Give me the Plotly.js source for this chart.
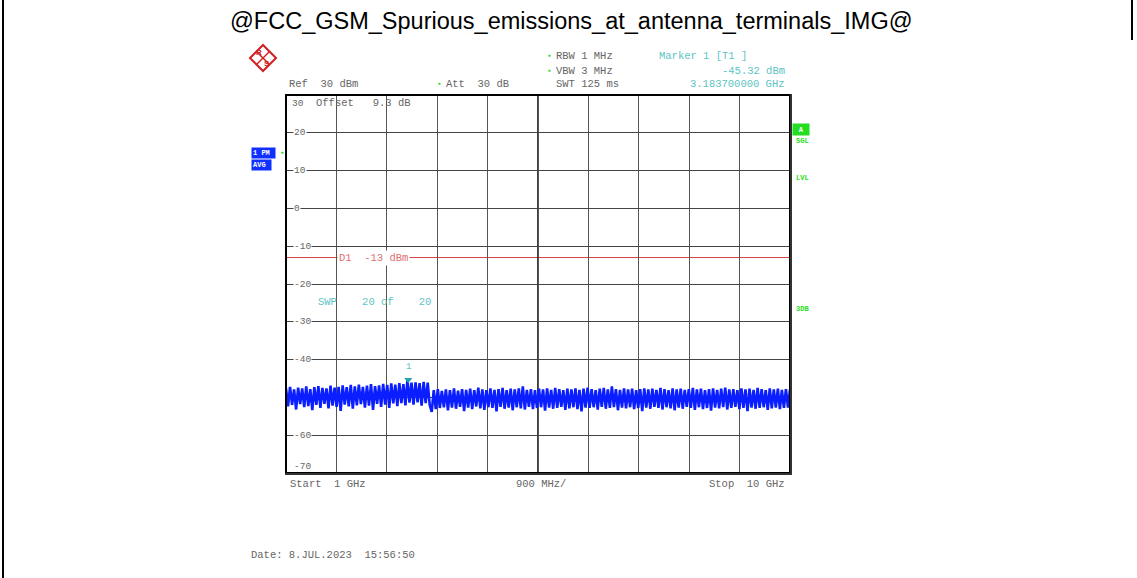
<!DOCTYPE html>
<html>
<head>
<meta charset="utf-8">
<script src="https://cdn.plot.ly/plotly-3.0.1.min.js"></script>
<style>html,body{margin:0;padding:0;background:#fff;}#chart{width:1137px;height:578px;}</style>
</head>
<body>
<div id="chart"></div>
<script>
// ---- data ----
const titleText = "@FCC_GSM_Spurious_emissions_at_antenna_terminals_IMG@";
const startGHz = 1;
const stopGHz = 10;
const refLevel = 30;
const bottomLevel = -70;
const yTickValues = [30, 20, 10, 0, -10, -20, -30, -40, -50, -60, -70];
const yTickLabels = ["30", "20", "10", "0", "-10", "-20", "-30", "-40", "-50", "-60", "-70"];
const limitD1 = -13;
const markerFreqGHz = 3.1837;
const markerLevel = -45.32;
const traceLevels = [
 -47.6,-52.4,-47.2,-52.0,-47.9,-53.2,-47.4,-51.8,-47.6,-52.6,
 -47.1,-52.3,-47.8,-53.4,-47.3,-52.0,-47.0,-52.8,-47.5,-51.7,
 -47.6,-52.9,-46.9,-52.2,-47.4,-52.5,-47.2,-53.6,-46.8,-51.9,
 -47.3,-52.4,-46.7,-53.0,-47.1,-52.1,-46.6,-51.8,-47.2,-52.7,
 -46.9,-52.2,-46.5,-53.3,-47.0,-51.7,-46.8,-52.5,-46.4,-51.9,
 -46.7,-52.8,-46.3,-51.6,-46.6,-52.3,-46.2,-51.5,-46.5,-52.1,
 -45.3,-51.4,-46.1,-51.9,-46.0,-51.3,-46.2,-52.2,-45.9,-51.5,
 -46.1,-52.0,
 -53.8,-48.1,-53.1,-47.8,-52.8,-48.3,-52.6,-47.9,
 -53.4,-48.1,-52.7,-47.6,-53.0,-48.2,-52.5,-47.8,-53.6,-48.0,
 -52.7,-47.7,-53.1,-48.1,-52.4,-47.4,-52.9,-47.9,-53.3,-48.1,
 -52.6,-47.6,-52.8,-48.0,-53.7,-47.8,-52.5,-47.5,-53.0,-48.1,
 -52.7,-47.7,-53.4,-47.9,-52.6,-47.6,-52.9,-47.1,-53.2,-48.0,
 -52.5,-47.8,-53.1,-48.1,-52.8,-47.7,-52.6,-47.9,-53.5,-47.6,
 -52.7,-48.0,-53.0,-47.5,-52.8,-47.8,-52.5,-48.1,-53.3,-47.7,
 -52.9,-47.9,-52.6,-47.6,-53.1,-48.0,-53.7,-47.7,-52.7,-47.4,
 -52.8,-47.8,-52.6,-48.1,-53.2,-47.7,-52.5,-47.5,-53.0,-47.9,
 -52.8,-47.1,-52.6,-47.8,-53.4,-48.0,-52.7,-47.6,-52.9,-47.9,
 -52.6,-47.7,-53.1,-48.1,-52.8,-47.8,-53.6,-47.6,-52.7,-47.9,
 -53.0,-47.7,-52.5,-48.0,-52.8,-47.5,-53.2,-47.8,-52.6,-48.1,
 -52.9,-47.6,-53.4,-47.9,-52.7,-47.7,-53.0,-48.0,-52.5,-47.8,
 -52.8,-47.5,-53.3,-47.9,-52.6,-47.7,-53.1,-48.1,-52.8,-47.8,
 -53.5,-47.6,-52.7,-48.0,-52.9,-47.7,-52.6,-47.4,-53.2,-47.9,
 -52.8,-47.8,-52.5,-48.1,-53.1,-47.6,-52.8,-47.9,-53.6,-47.7,
 -52.7,-48.0,-53.0,-47.5,-52.8,-47.8,-52.6,-48.1,-53.3,-47.6,
 -52.9,-47.9,-52.7,-47.7,-53.1,-48.0,-52.8,-47.8,-52.7,-47.9
];
// sweep frequencies: linear sweep from start to stop
const traceFreqs = traceLevels.map((_, i) => startGHz + i * (stopGHz - startGHz) / (traceLevels.length - 1));

// ---- layout helpers (pixel -> paper) ----
const L = 286, R = 790, T = 95, B = 473;
const px = x => (x - L) / (R - L);
const py = y => (B - y) / (B - T);
const mono = "Liberation Mono, Courier New, monospace";
const grey = "#666";
const cyan = "#5cc4c4";
const green = "#22dd22";
const FS = 10.5;

function txt(x, y, text, opts = {}) {
  return Object.assign({
    xref: "paper", yref: "paper", x: px(x), y: py(y), text: text, showarrow: false,
    xanchor: "left", yanchor: "middle",
    font: { family: mono, size: FS, color: grey }
  }, opts);
}

const annotations = [];
// title
annotations.push(txt(571, 21, titleText, { xanchor: "center", font: { family: "Liberation Sans, Arial, sans-serif", size: 23.5, color: "#000" } }));
// header
annotations.push(txt(287, 84, "Ref&nbsp;&nbsp;30 dBm"));
annotations.push(txt(444, 84, "Att&nbsp;&nbsp;30 dB"));
annotations.push(txt(554, 56, "RBW&nbsp;1 MHz"));
annotations.push(txt(554, 71, "VBW&nbsp;3 MHz"));
annotations.push(txt(554, 84, "SWT&nbsp;125 ms"));
annotations.push(txt(657, 56, "Marker 1 [T1 ]", { font: { family: mono, size: FS, color: cyan } }));
annotations.push(txt(787, 71, markerLevel.toFixed(2) + " dBm", { xanchor: "right", font: { family: mono, size: FS, color: cyan } }));
annotations.push(txt(787, 84, markerFreqGHz.toFixed(9) + " GHz", { xanchor: "right", font: { family: mono, size: FS, color: cyan } }));
// green dots
[[439, 84], [549, 56], [549, 71], [282, 153]].forEach(p => annotations.push(txt(p[0], p[1], "\u25CF", { xanchor: "center", font: { family: mono, size: 5, color: green } })));
// inside plot
annotations.push(txt(314, 103, "Offset&nbsp;&nbsp;&nbsp;9.3 dB"));
annotations.push(txt(337, 258, "D1&nbsp;&nbsp;" + limitD1 + " dBm", { bgcolor: "#fff", borderpad: 1, font: { family: mono, size: FS, color: "#e07070" } }));
annotations.push(txt(316, 302, "SWP&nbsp;&nbsp;&nbsp;&nbsp;20 of&nbsp;&nbsp;&nbsp;&nbsp;20", { font: { family: mono, size: FS, color: cyan } }));
// y tick labels (the -50 label is hidden under the trace in the original)
yTickValues.forEach((v, i) => {
  if (v === -50) return;
  let y = B - (v - bottomLevel) / (refLevel - bottomLevel) * (B - T);
  let x = 293;
  if (i === 0) { y += 8; x = 291; }
  if (i === yTickValues.length - 1) y -= 7;
  annotations.push(txt(x, y, yTickLabels[i], { bgcolor: (i === 0 || i === yTickValues.length - 1) ? "rgba(0,0,0,0)" : "#fff", borderpad: 0, font: { family: mono, size: 9.5, color: grey } }));
});
// bottom
annotations.push(txt(288, 484, "Start&nbsp;&nbsp;" + startGHz + " GHz"));
annotations.push(txt(541, 484, ((stopGHz - startGHz) / 10 * 1000) + " MHz/", { xanchor: "center" }));
annotations.push(txt(787, 484, "Stop&nbsp;&nbsp;" + stopGHz + " GHz", { xanchor: "right" }));
annotations.push(txt(249, 555, "Date: 8.JUL.2023&nbsp;&nbsp;15:56:50"));
// left blue boxes
annotations.push(txt(251, 153, "<b>1 PM&nbsp;</b>", { bgcolor: "#1030ff", borderpad: 1, font: { family: mono, size: 7, color: "#fff" } }));
annotations.push(txt(251, 165, "<b>AVG&nbsp;</b>", { bgcolor: "#1030ff", borderpad: 1, font: { family: mono, size: 7, color: "#fff" } }));
// right green labels
annotations.push(txt(801, 129, "<b>&nbsp;A&nbsp;</b>", { xanchor: "center", bgcolor: green, borderpad: 1.5, font: { family: mono, size: 7, color: "#fff" } }));
annotations.push(txt(794, 141, "<b>SGL</b>", { font: { family: mono, size: 7, color: green } }));
annotations.push(txt(794, 178, "<b>LVL</b>", { font: { family: mono, size: 7, color: green } }));
annotations.push(txt(794, 309, "<b>3DB</b>", { font: { family: mono, size: 7, color: green } }));
// marker label
annotations.push({ x: markerFreqGHz, y: markerLevel, xref: "x", yref: "y", text: "1", showarrow: false, yshift: 13, font: { family: mono, size: 9, color: cyan } });
// R&S logo letters
annotations.push(txt(259, 52, "<b>R</b>", { xanchor: "center", font: { family: "Liberation Sans, sans-serif", size: 8, color: "#d02020" } }));
annotations.push(txt(267, 64, "<b>S</b>", { xanchor: "center", font: { family: "Liberation Sans, sans-serif", size: 8, color: "#d02020" } }));

const shapes = [];
// outer page borders
shapes.push({ type: "line", xref: "paper", yref: "paper", x0: px(3), x1: px(3), y0: py(0), y1: py(578), line: { color: "#000", width: 2 } });
shapes.push({ type: "line", xref: "paper", yref: "paper", x0: px(1132), x1: px(1132), y0: py(0), y1: py(40), line: { color: "#000", width: 2 } });
// D1 line
shapes.push({ type: "line", xref: "paper", yref: "y", x0: 0, x1: 1, y0: limitD1, y1: limitD1, line: { color: "#d04040", width: 1 }, layer: "below" });
// plot frame
shapes.push({ type: "rect", xref: "paper", yref: "paper", x0: 0, x1: 1, y0: 0, y1: 1, line: { color: "#000", width: 2 } });
shapes.push({ type: "line", xref: "paper", yref: "paper", x0: px(791), x1: px(791), y0: py(94), y1: py(475), line: { color: "#333", width: 2 } });
shapes.push({ type: "line", xref: "paper", yref: "paper", x0: px(285), x1: px(792), y0: py(474), y1: py(474), line: { color: "#333", width: 2 } });
// centre grid line darker
shapes.push({ type: "line", xref: "x", yref: "paper", x0: (startGHz + stopGHz) / 2, x1: (startGHz + stopGHz) / 2, y0: 0, y1: 1, line: { color: "#000", width: 1.5 }, layer: "below" });
// R&S logo diamond
const cx = 263, cy = 58, d = 13;
shapes.push({ type: "path", xref: "paper", yref: "paper",
  path: `M ${px(cx)} ${py(cy - d)} L ${px(cx + d)} ${py(cy)} L ${px(cx)} ${py(cy + d)} L ${px(cx - d)} ${py(cy)} Z`,
  line: { color: "#d02020", width: 2 } });
shapes.push({ type: "line", xref: "paper", yref: "paper", x0: px(cx - d / 2), y0: py(cy - d / 2), x1: px(cx + d / 2), y1: py(cy + d / 2), line: { color: "#d02020", width: 1.5 } });
shapes.push({ type: "line", xref: "paper", yref: "paper", x0: px(cx + d / 2), y0: py(cy - d / 2), x1: px(cx - d / 2), y1: py(cy + d / 2), line: { color: "#d02020", width: 1.5 } });

const data = [
  { x: traceFreqs, y: traceLevels, type: "scatter", mode: "lines", line: { color: "#0a1eff", width: 2.6, simplify: false }, hoverinfo: "skip" },
  { x: [markerFreqGHz], y: [markerLevel], type: "scatter", mode: "markers", marker: { symbol: "triangle-down", size: 7, color: "#2aa0a8" }, hoverinfo: "skip" }
];

const layout = {
  width: 1137, height: 578,
  margin: { l: L, r: 1137 - R, t: T, b: 578 - B, pad: 0 },
  paper_bgcolor: "#fff", plot_bgcolor: "#fff",
  showlegend: false,
  xaxis: { range: [startGHz, stopGHz], dtick: (stopGHz - startGHz) / 10, tick0: startGHz, showgrid: true, gridcolor: "#555", gridwidth: 1, showticklabels: false, zeroline: false, ticks: "", fixedrange: true },
  yaxis: { range: [bottomLevel, refLevel], tickvals: yTickValues, showgrid: true, gridcolor: "#444", gridwidth: 1, showticklabels: false, zeroline: false, ticks: "", fixedrange: true },
  annotations: annotations,
  shapes: shapes
};

Plotly.newPlot("chart", data, layout, { staticPlot: true, displayModeBar: false });
</script>
</body>
</html>
